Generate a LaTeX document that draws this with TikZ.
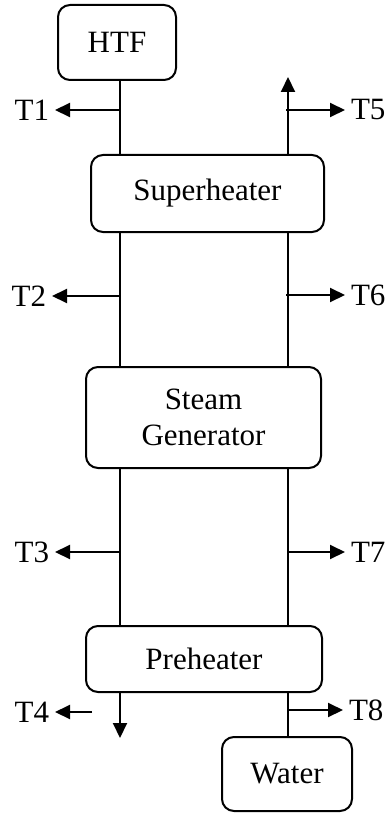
\documentclass[tikz,border=0pt]{standalone}
\usepackage{fontspec}
\setmainfont{Liberation Serif}
\usetikzlibrary{arrows.meta,positioning,calc}

\begin{document}
\begin{tikzpicture}[
    x=1pt, y=-1pt,
    line width=2pt,
    box/.style={rectangle, draw, rounded corners=12pt, inner sep=0pt, align=center, font=\fontsize{31}{36}\selectfont},
    tag/.style={inner sep=0pt, font=\fontsize{31}{36}\selectfont},
    flow/.style={-{Triangle[length=15pt,width=14pt]}},
    tap/.style={flow, shorten >=5pt}
]
    \useasboundingbox (0,0) rectangle (388,813);

    % Boxes
    \node[box, minimum width=118pt, minimum height=75pt] (htf) at (117,42.5) {HTF};
    \node[box, minimum width=233pt, minimum height=77pt] (sup) at (207.5,193.5) {Superheater};
    \node[box, minimum width=235pt, minimum height=101pt] (gen) at (203.5,417.5) {Steam\\Generator};
    \node[box, minimum width=236pt, minimum height=66pt] (pre) at (204,659) {Preheater};
    \node[box, minimum width=130pt, minimum height=74pt] (water) at (287,774) {Water};

    % Pipe lines
    \coordinate (hot) at (120,0);
    \coordinate (cold) at (288,0);
    \coordinate (drain) at (120,738);
    \coordinate (steam) at (288,77);

    % Tap points
    \coordinate (p1) at (120,110);
    \coordinate (p2) at (120,296);
    \coordinate (p3) at (120,552);
    \coordinate (p4) at (92,712);
    \coordinate (p5) at (286,110);
    \coordinate (p6) at (286,295);
    \coordinate (p7) at (288,552);
    \coordinate (p8) at (288,710);

    % Labels
    \node[tag, anchor=east] (t1) at (50,110) {T1};
    \node[tag, anchor=east] (t2) at (47,296) {T2};
    \node[tag, anchor=east] (t3) at (50,552) {T3};
    \node[tag, anchor=east] (t4) at (50,712) {T4};
    \node[tag, anchor=west] (t5) at (350,110) {T5};
    \node[tag, anchor=west] (t6) at (350,295) {T6};
    \node[tag, anchor=west] (t7) at (350,552) {T7};
    \node[tag, anchor=west] (t8) at (348,710) {T8};

    % Edges
    \draw (htf.south -| hot) -- (sup.north -| hot);
    \draw (sup.south -| hot) -- (gen.north -| hot);
    \draw (gen.south -| hot) -- (pre.north -| hot);
    \draw[flow] (pre.south -| hot) -- (drain);
    \draw (water.north -| cold) -- (pre.south -| cold);
    \draw (pre.north -| cold) -- (gen.south -| cold);
    \draw (gen.north -| cold) -- (sup.south -| cold);
    \draw[flow] (sup.north -| cold) -- (steam);

    \draw[tap] (p1) -- (t1.east);
    \draw[tap] (p2) -- (t2.east);
    \draw[tap] (p3) -- (t3.east);
    \draw[tap] (p4) -- (t4.east);
    \draw[tap] (p5) -- (t5.west);
    \draw[tap] (p6) -- (t6.west);
    \draw[tap] (p7) -- (t7.west);
    \draw[tap] (p8) -- (t8.west);
\end{tikzpicture}
\end{document}
